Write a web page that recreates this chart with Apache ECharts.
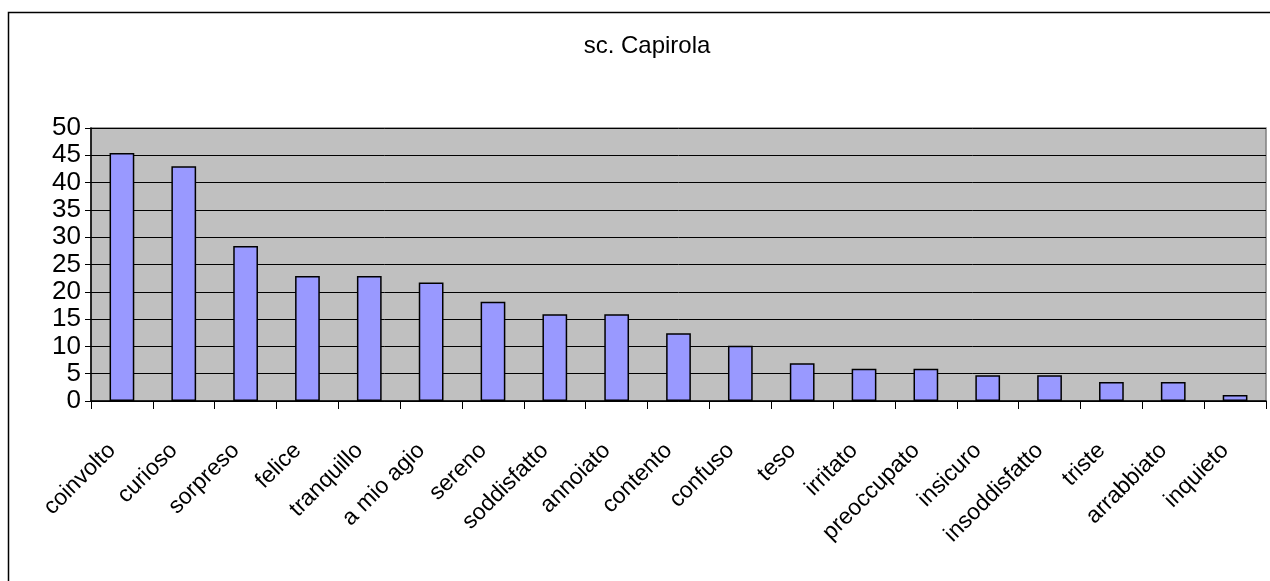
<!DOCTYPE html>
<html>
<head>
<meta charset="utf-8">
<script src="https://cdn.jsdelivr.net/npm/echarts@6/dist/echarts.min.js"></script>
<style>
html,body{margin:0;padding:0;background:#fff;}
#chart{width:1270px;height:581px;}
</style>
</head>
<body>
<div id="chart"></div>
<script>
const title = 'sc. Capirola';
const categories = ['coinvolto','curioso','sorpreso','felice','tranquillo','a mio agio','sereno','soddisfatto','annoiato','contento','confuso','teso','irritato','preoccupato','insicuro','insoddisfatto','triste','arrabbiato','inquieto'];
const values = [45.4, 43.0, 28.4, 22.9, 22.9, 21.7, 18.2, 15.9, 15.9, 12.4, 10.1, 6.9, 5.9, 5.9, 4.7, 4.7, 3.5, 3.5, 1.1];

const chart = echarts.init(document.getElementById('chart'), null, {renderer: 'canvas'});
chart.setOption({
  animation: false,
  backgroundColor: '#ffffff',
  title: {
    text: title,
    left: 642, top: 29,
    textAlign: 'center',
    textStyle: {fontFamily: 'Liberation Sans, Arial, sans-serif', fontSize: 24, fontWeight: 'normal', color: '#000'}
  },
  graphic: [{
    type: 'rect', z: 100, silent: true,
    shape: {x: 8.5, y: 12.5, width: 1300, height: 700},
    style: {fill: 'none', stroke: '#000', lineWidth: 1.5}
  }],
  grid: {
    left: 91, right: 4, top: 128, bottom: 180,
    show: true, backgroundColor: '#c0c0c0', borderColor: '#808080', borderWidth: 1.5
  },
  xAxis: {
    type: 'category',
    data: categories,
    axisLine: {show: true, lineStyle: {color: '#000', width: 1.5}},
    axisTick: {show: true, length: 8, lineStyle: {color: '#000'}},
    axisLabel: {
      rotate: 45, interval: 0, margin: 36, color: '#000',
      padding: [0, 14, 0, 0],
      hideOverlap: false,
      fontFamily: 'Liberation Sans, Arial, sans-serif', fontSize: 23
    },
    splitLine: {show: false}
  },
  yAxis: {
    type: 'value', min: 0, max: 50, interval: 5,
    axisLine: {show: true, lineStyle: {color: '#000', width: 1.5}},
    axisTick: {show: true, length: 6, lineStyle: {color: '#000'}},
    axisLabel: {
      color: '#000', margin: 10,
      showMinLabel: true, showMaxLabel: true, hideOverlap: false,
      fontFamily: 'Liberation Sans, Arial, sans-serif', fontSize: 26
    },
    splitLine: {show: true, lineStyle: {color: '#000', width: 1}}
  },
  series: [{
    type: 'bar',
    data: values,
    barWidth: '40%',
    itemStyle: {color: '#9999ff', borderColor: '#000', borderWidth: 1.5}
  }]
});
</script>
</body>
</html>
